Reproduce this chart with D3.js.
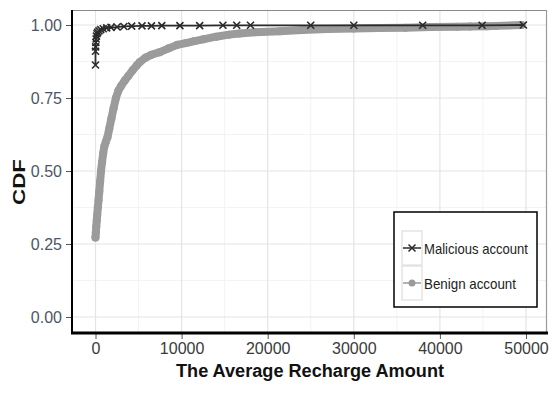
<!DOCTYPE html>
<html><head><meta charset="utf-8">
<script src="https://cdn.jsdelivr.net/npm/d3@7/dist/d3.min.js"></script>
<style>
html,body{margin:0;padding:0;background:#fff;}
svg{display:block;}
</style></head>
<body>
<svg id="chart" width="553" height="397"></svg>
<script>
// ---- data ----
const benignX = [0,40,90,140,200,270,350,440,540,640,760,890,1030,1200,1390,1600,1850,2100,2370,2650,2950,3400,3800,4340,4800,5150,5800,6500,7460,8500,9500,10500,11500,12500,14000,15500,16700,18500,21400,24000,27000,30000,33000,36000,39000,42000,43500,45500,46500,49500];
const benignY = [0.272,0.29,0.31,0.33,0.35,0.375,0.40,0.43,0.465,0.50,0.53,0.56,0.585,0.60,0.616,0.645,0.68,0.715,0.75,0.775,0.79,0.81,0.825,0.846,0.862,0.873,0.888,0.898,0.907,0.92,0.932,0.938,0.945,0.951,0.96,0.967,0.971,0.975,0.979,0.983,0.986,0.988,0.99,0.991,0.993,0.994,0.995,0.996,0.997,1.0];
const maliciousX = [0,0,20,40,70,110,170,250,400,600,900,1300,1800,2500,3300,4200,5400,6500,7700,9800,12100,14800,16400,18000,25000,30000,38000,44900,49700];
const maliciousY = [0.863,0.91,0.925,0.94,0.952,0.962,0.97,0.975,0.98,0.984,0.987,0.99,0.992,0.993,0.995,0.996,0.997,0.997,0.998,0.998,0.998,0.999,0.999,0.999,0.999,0.999,0.999,0.999,1.0];
const xTicks = [0,10000,20000,30000,40000,50000];
const xMinor = [5000,15000,25000,35000,45000];
const yTicks = [0,0.25,0.5,0.75,1];
const yMinor = [0.125,0.375,0.625,0.875];
const seriesNames = ["Malicious account","Benign account"];
const xTitle = "The Average Recharge Amount";
const yTitle = "CDF";

const svg = d3.select("#chart");
const L = 72, R = 547, T = 10, B = 333;
const x = d3.scaleLinear().domain([-2730, 52440]).range([L, R]);
const y = d3.scaleLinear().domain([0, 1]).range([317, 25]);
const FONT = "'Liberation Sans',Arial,sans-serif";

// panel background + grid
svg.append("rect").attr("x",L).attr("y",T).attr("width",R-L).attr("height",B-T).attr("fill","#fff");
const grid = svg.append("g");
grid.selectAll(".xm").data(xMinor).enter().append("line")
  .attr("x1",d=>x(d)).attr("x2",d=>x(d)).attr("y1",T).attr("y2",B)
  .attr("stroke","#f3f3f3").attr("stroke-width",1);
grid.selectAll(".ym").data(yMinor).enter().append("line")
  .attr("y1",d=>y(d)).attr("y2",d=>y(d)).attr("x1",L).attr("x2",R)
  .attr("stroke","#f3f3f3").attr("stroke-width",1);
grid.selectAll(".xM").data(xTicks).enter().append("line")
  .attr("x1",d=>x(d)).attr("x2",d=>x(d)).attr("y1",T).attr("y2",B)
  .attr("stroke","#e4e4e4").attr("stroke-width",1.2);
grid.selectAll(".yM").data(yTicks).enter().append("line")
  .attr("y1",d=>y(d)).attr("y2",d=>y(d)).attr("x1",L).attr("x2",R)
  .attr("stroke","#e4e4e4").attr("stroke-width",1.2);

// panel border (top/right)
svg.append("line").attr("x1",L).attr("x2",R).attr("y1",T+0.5).attr("y2",T+0.5).attr("stroke","#8a8a8a").attr("stroke-width",1.2);
svg.append("line").attr("x1",R-0.5).attr("x2",R-0.5).attr("y1",T).attr("y2",B).attr("stroke","#9a9a9a").attr("stroke-width",1.2);

// benign series
const benign = benignX.map((v,i)=>({x:v,y:benignY[i]}));
const malicious = maliciousX.map((v,i)=>({x:v,y:maliciousY[i]}));
const line = d3.line().x(d=>x(d.x)).y(d=>y(d.y));
svg.append("path").datum(benign).attr("d",line).attr("fill","none")
  .attr("stroke","#9b9b9b").attr("stroke-width",8).attr("stroke-linecap","round").attr("stroke-linejoin","round");
svg.selectAll(".bp").data(benign).enter().append("circle")
  .attr("cx",d=>x(d.x)).attr("cy",d=>y(d.y)).attr("r",4).attr("fill","#9b9b9b");

// malicious series
svg.append("path").datum(malicious).attr("d",line).attr("fill","none")
  .attr("stroke","#2b2b2b").attr("stroke-width",1.8);
const xs = 3.5;
const mg = svg.selectAll(".mp").data(malicious).enter().append("g")
  .attr("transform",d=>`translate(${x(d.x)},${y(d.y)})`);
mg.append("path").attr("d",`M${-xs},${-xs}L${xs},${xs}M${-xs},${xs}L${xs},${-xs}`)
  .attr("stroke","#2b2b2b").attr("stroke-width",1.6).attr("fill","none");

// axes
const xAxis = svg.append("g").attr("transform",`translate(0,${B})`)
  .call(d3.axisBottom(x).tickValues(xTicks).tickFormat(d3.format("d")).tickSize(6).tickPadding(4));
xAxis.select(".domain").remove();
xAxis.selectAll(".tick line").attr("stroke","#555").attr("stroke-width",1);
xAxis.selectAll(".tick text").attr("font-family",FONT)
  .attr("font-size",16).attr("fill","#3a3a3a");
const yAxis = svg.append("g").attr("transform",`translate(${L},0)`)
  .call(d3.axisLeft(y).tickValues(yTicks).tickFormat(d3.format(".2f")).tickSize(6).tickPadding(4));
yAxis.select(".domain").remove();
yAxis.selectAll(".tick line").attr("stroke","#555").attr("stroke-width",1);
yAxis.selectAll(".tick text").attr("font-family",FONT)
  .attr("font-size",16).attr("fill","#4e5568");

// thick axis lines
svg.append("line").attr("x1",L).attr("x2",L).attr("y1",T).attr("y2",B+1).attr("stroke","#000").attr("stroke-width",2);
svg.append("line").attr("x1",L-1).attr("x2",R+1).attr("y1",B).attr("y2",B).attr("stroke","#000").attr("stroke-width",3);

// titles
svg.append("text").attr("x",310).attr("y",377).attr("text-anchor","middle")
  .attr("font-family",FONT).attr("font-weight","bold")
  .attr("font-size",18).attr("fill","#111")
  .attr("textLength",268).attr("lengthAdjust","spacingAndGlyphs").text(xTitle);
svg.append("text").attr("transform","translate(25,182) rotate(-90)").attr("text-anchor","middle")
  .attr("font-family",FONT).attr("font-weight","bold")
  .attr("font-size",17).attr("fill","#111")
  .attr("textLength",46).attr("lengthAdjust","spacingAndGlyphs").text(yTitle);

// legend
const lg = svg.append("g");
lg.append("rect").attr("x",394).attr("y",212).attr("width",143).attr("height",95)
  .attr("fill","#fff").attr("stroke","#000").attr("stroke-width",1.5);
const items = [
  {name:seriesNames[0], color:"#2b2b2b", shape:"x", w:104},
  {name:seriesNames[1], color:"#9b9b9b", shape:"o", w:92}
];
items.forEach((it,i)=>{
  const cy = 248 + i*35;
  lg.append("rect").attr("x",402).attr("y",cy-17).attr("width",20).attr("height",34)
    .attr("fill","#fff").attr("stroke","#d8d8d8").attr("stroke-width",1);
  lg.append("line").attr("x1",403).attr("x2",421).attr("y1",cy).attr("y2",cy)
    .attr("stroke",it.color).attr("stroke-width",1.5);
  if(it.shape==="x"){
    lg.append("path").attr("d",`M${412-xs},${cy-xs}L${412+xs},${cy+xs}M${412-xs},${cy+xs}L${412+xs},${cy-xs}`)
      .attr("stroke",it.color).attr("stroke-width",1.5);
  } else {
    lg.append("circle").attr("cx",412).attr("cy",cy).attr("r",3.5).attr("fill",it.color);
  }
  lg.append("text").attr("x",424).attr("y",cy+5.5)
    .attr("font-family",FONT).attr("font-size",15).attr("fill","#222")
    .attr("textLength",it.w).attr("lengthAdjust","spacingAndGlyphs").text(it.name);
});
</script>
</body></html>
